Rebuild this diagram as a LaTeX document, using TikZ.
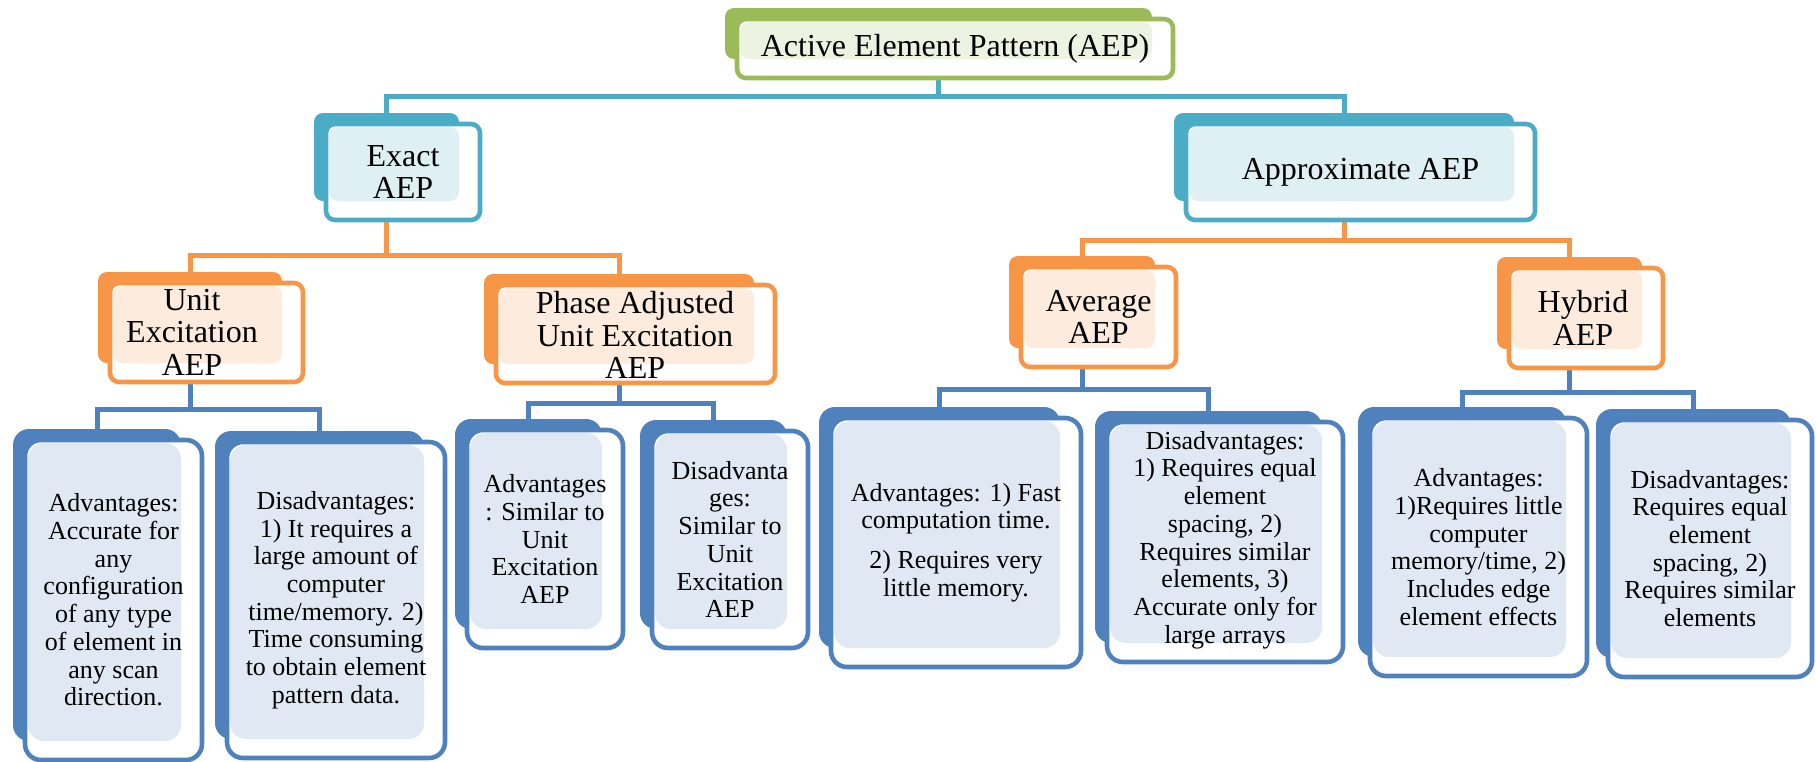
\documentclass[tikz,border=0pt]{standalone}
\usepackage{fontspec}
\setmainfont{Liberation Serif}
\usetikzlibrary{fit}
\definecolor{aepgreen}{HTML}{9BBB59}
\definecolor{aepteal}{HTML}{4BACC6}
\definecolor{aeporange}{HTML}{F79646}
\definecolor{aepblue}{HTML}{4F81BD}
\pgfdeclarelayer{background}
\pgfsetlayers{background,main}

\tikzset{
  conn/.style={line width=2.5pt},
  midtext/.style={align=center, inner sep=0pt, font=\fontsize{16}{16.3}\selectfont},
  lowtext/.style={align=center, inner sep=0pt, font=\fontsize{13}{13.85}\selectfont},
}

% A box: filled shadow card behind, white outlined card in front,
% and a light tint where the two overlap.
% #1 corner radius, #2 name, #3 colour, #4..#7 front card corners
\newcommand{\aepbox}[7][4.5pt]{%
  \node[fit={(#4-12,#5-11) (#6-21,#7-19)}, inner sep=0pt,
        rounded corners=#1, fill=#3] (#2-b) {};
  \node[fit={(#4,#5) (#6,#7)}, inner sep=0pt, rounded corners=#1,
        fill=white, draw=#3, line width=2.3pt] (#2) {};
  \fill[#3!18, rounded corners=#1] (#4+3,#5+3) rectangle (#6-21,#7-19);
}

\begin{document}
\begin{tikzpicture}[x=0.5pt, y=-0.5pt]
\useasboundingbox (0,0) rectangle (1816,761);

% ---- cards ----
\aepbox{top}{aepgreen}{737}{19}{1173}{78}
\aepbox{exact}{aepteal}{326}{124}{480}{220}
\aepbox{approx}{aepteal}{1186}{124}{1535}{220}
\aepbox{unit}{aeporange}{110}{283}{303}{382}
\aepbox{phase}{aeporange}{496}{285}{775}{383}
\aepbox{avg}{aeporange}{1021}{267}{1176}{367}
\aepbox{hyb}{aeporange}{1509}{268}{1663}{368}
\aepbox[8pt]{ua}{aepblue}{25}{440}{202}{760}
\aepbox[8pt]{ud}{aepblue}{227}{442}{445}{758}
\aepbox[8pt]{pa}{aepblue}{467}{430}{623}{648}
\aepbox[8pt]{pd}{aepblue}{652}{431}{808}{648}
\aepbox[8pt]{aa}{aepblue}{831}{418}{1081}{667}
\aepbox[8pt]{ad}{aepblue}{1107}{422}{1343}{662}
\aepbox[8pt]{ha}{aepblue}{1370}{418}{1587}{676}
\aepbox[8pt]{hd}{aepblue}{1608}{420}{1812}{677}

% ---- labels ----
\node[midtext] (top-t) at (top.center) {Active Element Pattern (AEP)};
\node[midtext] (exact-t) at (exact.center) {Exact\\AEP};
\node[midtext] (approx-t) at (approx.center) {Approximate AEP};
\node[midtext] (unit-t) at (192,332) {Unit\\Excitation\\AEP};
\node[midtext] (phase-t) at (635,335) {Phase Adjusted\\Unit Excitation\\AEP};
\node[midtext] (avg-t) at (avg.center) {Average\\AEP};
\node[midtext] (hyb-t) at (1583,318) {Hybrid\\AEP};

\node[lowtext] (ua-t) at (ua.center) {Advantages:\\Accurate for\\any\\configuration\\of any type\\of element in\\any scan\\direction.};
\node[lowtext] (ud-t) at (ud.center) {Disadvantages:\\1) It requires a\\large amount of\\computer\\time/memory. 2)\\Time consuming\\to obtain element\\pattern data.};
\node[lowtext] (pa-t) at (pa.center) {Advantages\\: Similar to\\Unit\\Excitation\\AEP};
\node[lowtext] (pd-t) at (pd.center) {Disadvanta\\ges:\\Similar to\\Unit\\Excitation\\AEP};
\node[lowtext] (aa-t) at (aa.center) {Advantages: 1) Fast\\computation time.\\[6pt]2) Requires very\\little memory.};
\node[lowtext] (ad-t) at (1225,540) {Disadvantages:\\1) Requires equal\\element\\spacing, 2)\\Requires similar\\elements, 3)\\Accurate only for\\large arrays};
\node[lowtext] (ha-t) at (ha.center) {Advantages:\\1)Requires little\\computer\\memory/time, 2)\\Includes edge\\element effects};
\node[lowtext] (hd-t) at (hd.center) {Disadvantages:\\Requires equal\\element\\spacing, 2)\\Requires similar\\elements};

% ---- connectors (behind the cards) ----
\coordinate (j-top) at (0,96);
\coordinate (j-exact) at (0,255);
\coordinate (j-approx) at (0,240);
\coordinate (j-unit) at (0,409);
\coordinate (j-phase) at (0,403);
\coordinate (j-avg) at (0,389);
\coordinate (j-hyb) at (0,392);
\begin{pgfonlayer}{background}
  \draw[conn, aepteal] (top-b.south |- top.south) -- (top-b.south |- j-top) -| (exact-b.north);
  \draw[conn, aepteal] (top-b.south |- j-top) -| (approx-b.north);

  \draw[conn, aeporange] (exact-b.south |- exact.south) -- (exact-b.south |- j-exact) -| (unit-b.north);
  \draw[conn, aeporange] (exact-b.south |- j-exact) -| (phase-b.north);
  \draw[conn, aeporange] (approx-b.south |- approx.south) -- (approx-b.south |- j-approx) -| (avg-b.north);
  \draw[conn, aeporange] (approx-b.south |- j-approx) -| (hyb-b.north);

  \draw[conn, aepblue] (unit-b.south |- unit.south) -- (unit-b.south |- j-unit) -| (ua-b.north);
  \draw[conn, aepblue] (unit-b.south |- j-unit) -| (ud-b.north);
  \draw[conn, aepblue] (phase-b.south |- phase.south) -- (phase-b.south |- j-phase) -| (pa-b.north);
  \draw[conn, aepblue] (phase-b.south |- j-phase) -| (pd-b.north);
  \draw[conn, aepblue] (avg-b.south |- avg.south) -- (avg-b.south |- j-avg) -| (aa-b.north);
  \draw[conn, aepblue] (avg-b.south |- j-avg) -| (ad-b.north);
  \draw[conn, aepblue] (hyb-b.south |- hyb.south) -- (hyb-b.south |- j-hyb) -| (ha-b.north);
  \draw[conn, aepblue] (hyb-b.south |- j-hyb) -| (hd-b.north);
\end{pgfonlayer}
\end{tikzpicture}
\end{document}
